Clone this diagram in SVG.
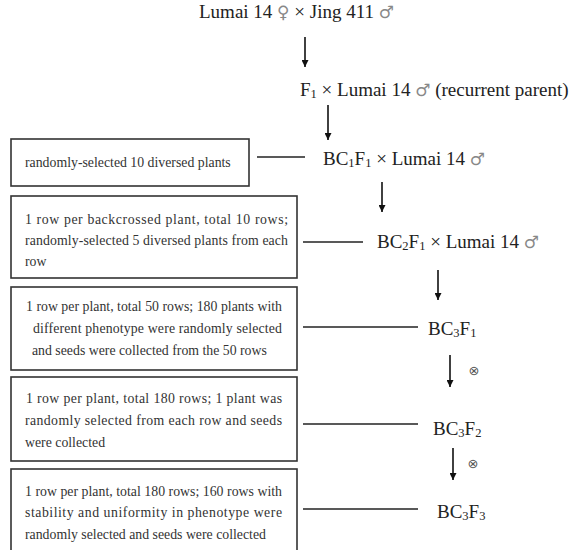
<svg xmlns="http://www.w3.org/2000/svg" width="577" height="550" viewBox="0 0 577 550">
<defs>
<marker id="ah" viewBox="0 0 10 10" refX="10" refY="5" markerWidth="7" markerHeight="7" markerUnits="userSpaceOnUse" orient="auto">
<path d="M0,0 L10,5 L0,10 z" fill="#111"/>
</marker>
<style>
.bg{fill:#fff}
.box{fill:#fff;stroke:#333;stroke-width:1.6}
.bt{font-family:"Liberation Serif","Times New Roman",serif;font-size:13.8px;fill:#333}
.nt{font-family:"Liberation Serif","Times New Roman",serif;font-size:19px;fill:#222}
.sym{font-family:"DejaVu Sans","Noto Sans",sans-serif;font-size:17px;fill:#888}
.sub{font-size:12.5px}
.ln{stroke:#222;stroke-width:1.4;fill:none}
.arr{stroke:#111;stroke-width:1.6;fill:none;marker-end:url(#ah)}
.self{font-family:"DejaVu Sans",sans-serif;font-size:13px;fill:#555}
</style>
</defs>
<rect class="bg" x="0" y="0" width="577" height="550"/>

<g id="n-parents">
<text class="nt" x="199" y="18">Lumai 14 <tspan class="sym">♀</tspan> × Jing 411 <tspan class="sym">♂</tspan></text>
</g>
<g id="n-f1">
<text class="nt" x="300" y="96">F<tspan class="sub" dy="2">1</tspan><tspan dy="-2"> × Lumai 14 </tspan><tspan class="sym">♂</tspan> (recurrent parent)</text>
</g>
<g id="n-bc1f1">
<text class="nt" x="323" y="165">BC<tspan class="sub" dy="2">1</tspan><tspan dy="-2">F</tspan><tspan class="sub" dy="2">1</tspan><tspan dy="-2"> × Lumai 14 </tspan><tspan class="sym">♂</tspan></text>
</g>
<g id="n-bc2f1">
<text class="nt" x="377" y="248">BC<tspan class="sub" dy="2">2</tspan><tspan dy="-2">F</tspan><tspan class="sub" dy="2">1</tspan><tspan dy="-2"> × Lumai 14 </tspan><tspan class="sym">♂</tspan></text>
</g>
<g id="n-bc3f1">
<text class="nt" x="428" y="335">BC<tspan class="sub" dy="2">3</tspan><tspan dy="-2">F</tspan><tspan class="sub" dy="2">1</tspan></text>
</g>
<g id="n-bc3f2">
<text class="nt" x="433" y="435">BC<tspan class="sub" dy="2">3</tspan><tspan dy="-2">F</tspan><tspan class="sub" dy="2">2</tspan></text>
</g>
<g id="n-bc3f3">
<text class="nt" x="437" y="518">BC<tspan class="sub" dy="2">3</tspan><tspan dy="-2">F</tspan><tspan class="sub" dy="2">3</tspan></text>
</g>

<g id="box1">
<rect class="box" x="11" y="139" width="238" height="47"/>
<text class="bt" x="25" y="167">randomly-selected 10 diversed plants</text>
</g>
<g id="box2">
<rect class="box" x="11" y="196" width="286" height="82"/>
<text class="bt" x="25" y="224" textLength="263" lengthAdjust="spacing">1 row per backcrossed plant, total 10 rows;</text>
<text class="bt" x="25" y="245" textLength="263" lengthAdjust="spacing">randomly-selected 5 diversed plants from each</text>
<text class="bt" x="25" y="266">row</text>
</g>
<g id="box3">
<rect class="box" x="11" y="287" width="286" height="83"/>
<text class="bt" x="26" y="311" textLength="256" lengthAdjust="spacing">1 row per plant, total 50 rows; 180 plants with</text>
<text class="bt" x="33" y="333" textLength="249" lengthAdjust="spacing">different phenotype were randomly selected</text>
<text class="bt" x="32" y="355">and seeds were collected from the 50 rows</text>
</g>
<g id="box4">
<rect class="box" x="11" y="377" width="286" height="84"/>
<text class="bt" x="26" y="403" textLength="256" lengthAdjust="spacing">1 row per plant, total 180 rows; 1 plant was</text>
<text class="bt" x="25" y="425" textLength="257" lengthAdjust="spacing">randomly selected from each row and seeds</text>
<text class="bt" x="25" y="447">were collected</text>
</g>
<g id="box5">
<rect class="box" x="11" y="469" width="286" height="95"/>
<text class="bt" x="25" y="496" textLength="257" lengthAdjust="spacing">1 row per plant, total 180 rows; 160 rows with</text>
<text class="bt" x="25" y="517" textLength="257" lengthAdjust="spacing">stability and uniformity in phenotype were</text>
<text class="bt" x="25" y="539">randomly selected and seeds were collected</text>
</g>

<g id="connectors">
<line class="arr" x1="305" y1="37" x2="305" y2="67"/>
<line class="arr" x1="328" y1="105" x2="328" y2="140"/>
<line class="arr" x1="382" y1="182" x2="382" y2="212"/>
<line class="arr" x1="438" y1="270" x2="438" y2="300"/>
<line class="arr" x1="450" y1="355" x2="450" y2="387"/>
<line class="arr" x1="453" y1="448" x2="453" y2="480"/>
<line class="ln" x1="257" y1="157" x2="305" y2="157"/>
<line class="ln" x1="303" y1="242" x2="363" y2="242"/>
<line class="ln" x1="303" y1="327" x2="418" y2="327"/>
<line class="ln" x1="303" y1="424" x2="418" y2="424"/>
<line class="ln" x1="303" y1="509" x2="418" y2="509"/>
<text class="self" x="474" y="375" text-anchor="middle">⊗</text>
<text class="self" x="473" y="468" text-anchor="middle">⊗</text>
</g>
</svg>
